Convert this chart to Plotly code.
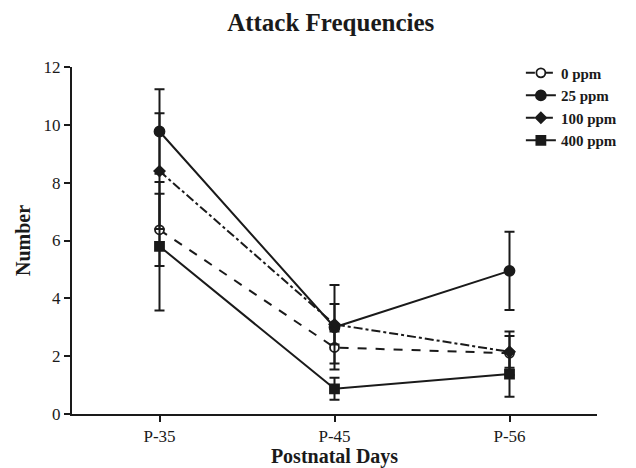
import plotly.graph_objects as go

days = ["P-35", "P-45", "P-56"]
groups = ["0 ppm", "25 ppm", "100 ppm", "400 ppm"]
means = {
    "0 ppm": [6.37, 2.3, 2.1],
    "25 ppm": [9.77, 3.0, 4.95],
    "100 ppm": [8.4, 3.1, 2.15],
    "400 ppm": [5.8, 0.87, 1.38],
}
errors = {
    "0 ppm": [1.25, 0.55, 0.75],
    "25 ppm": [1.46, 1.46, 1.35],
    "100 ppm": [2.0, 0.7, 0.55],
    "400 ppm": [2.22, 0.38, 0.78],
}
dashes = {"0 ppm": "dash", "25 ppm": "solid", "100 ppm": "dashdot", "400 ppm": "solid"}
symbols = {"0 ppm": "circle", "25 ppm": "circle", "100 ppm": "diamond", "400 ppm": "square"}
fills = {"0 ppm": "white", "25 ppm": "#1a1a1a", "100 ppm": "#1a1a1a", "400 ppm": "#1a1a1a"}
sizes = {"0 ppm": 9, "25 ppm": 10, "100 ppm": 8, "400 ppm": 9}

fig = go.Figure()
for g in groups:
    fig.add_trace(go.Scatter(
        x=days, y=means[g], name="<b>" + g + "</b>", mode="lines+markers",
        line=dict(color="#1a1a1a", width=2, dash=dashes[g]),
        marker=dict(symbol=symbols[g], size=sizes[g], color=fills[g],
                    line=dict(color="#1a1a1a", width=1.8)),
        error_y=dict(type="data", array=errors[g], visible=True, color="#1a1a1a", thickness=2, width=5),
    ))

font = "Liberation Serif, Times New Roman, serif"
fig.update_layout(
    width=636, height=468,
    margin=dict(l=72, r=39, t=67, b=54),
    paper_bgcolor="white", plot_bgcolor="white",
    title=dict(text="<b>Attack Frequencies</b>", x=0.52, xanchor="center", y=0.953, yanchor="middle",
               font=dict(family=font, size=25, color="#1a1a1a")),
    font=dict(family=font, size=17, color="#1a1a1a"),
    showlegend=True,
    legend=dict(x=0.855, xanchor="left", y=1.03, yanchor="top", bgcolor="rgba(0,0,0,0)",
                font=dict(family=font, size=15, color="#1a1a1a"), tracegroupgap=0, itemwidth=30),
)
fig.update_xaxes(
    type="category", range=[-0.5, 2.5], showline=True, linecolor="#1a1a1a", linewidth=2,
    ticks="outside", ticklen=6, tickwidth=2, tickcolor="#1a1a1a", showgrid=False, zeroline=False,
    tickfont=dict(family=font, size=17), automargin=False,
    title=dict(text="<b>Postnatal Days</b>", font=dict(family=font, size=20), standoff=2),
)
fig.update_yaxes(
    range=[0, 12], dtick=2, showline=True, linecolor="#1a1a1a", linewidth=2,
    ticks="outside", ticklen=6, tickwidth=2, tickcolor="#1a1a1a", showgrid=False, zeroline=False,
    tickfont=dict(family=font, size=17), automargin=False,
    title=dict(text="<b>Number</b>", font=dict(family=font, size=20), standoff=8),
)
fig.write_html("out.html")
